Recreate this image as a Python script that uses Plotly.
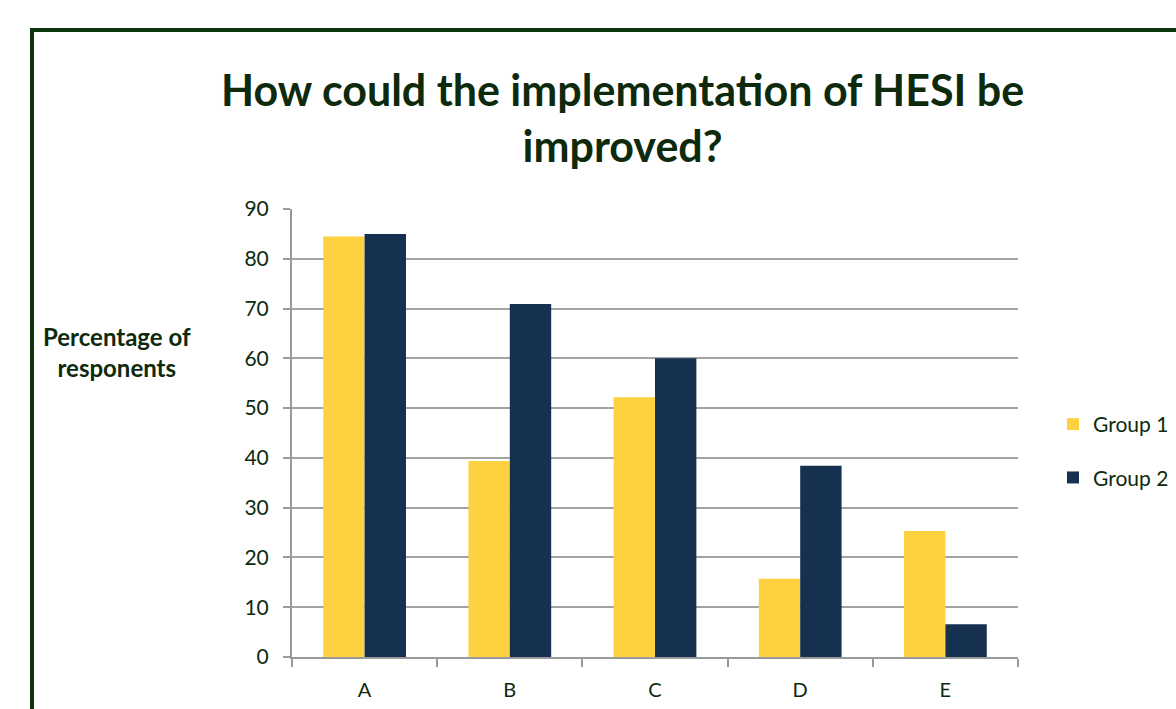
import plotly.graph_objects as go

categories = ["A", "B", "C", "D", "E"]
group1 = [84.5, 39.4, 52.2, 15.7, 25.3]
group2 = [85.0, 70.9, 60.0, 38.4, 6.6]
series_names = ["Group 1", "Group 2"]
y_ticks = [0, 10, 20, 30, 40, 50, 60, 70, 80, 90]

W, H = 1176, 709
L, R, T, B = 292, 158, 209, 52
pw, ph = W - L - R, H - T - B

def px(x):
    return (x - L) / pw

def py(y):
    return (H - B - y) / ph

text_color = "#0d2a0d"
font_family = "Lato, 'Open Sans', sans-serif"

fig = go.Figure()
fig.add_trace(go.Bar(x=categories, y=group1, name=series_names[0],
                     marker=dict(color="#FDD13F", line=dict(width=0)),
                     legendgroup="g1"))
fig.add_trace(go.Bar(x=categories, y=group2, name=series_names[1],
                     marker=dict(color="#16304F", line=dict(width=0)),
                     legendgroup="g2"))

fig.update_layout(
    width=W, height=H,
    margin=dict(l=L, r=R, t=T, b=B, autoexpand=False),
    paper_bgcolor="white", plot_bgcolor="white",
    barmode="group", bargap=0.43, bargroupgap=0,
    font=dict(family=font_family, color=text_color, size=20),
    showlegend=True,
    legend=dict(x=px(1053), y=py(404), xanchor="left", yanchor="top",
                font=dict(size=21, color=text_color),
                tracegroupgap=23, traceorder="grouped",
                itemwidth=30, bgcolor="rgba(0,0,0,0)"),
    xaxis=dict(type="category", showgrid=False, showline=True,
               linecolor="#9a9a9a", linewidth=2, ticks="outside",
               tickson="boundaries", ticklen=8, tickcolor="#9a9a9a",
               tickwidth=2, ticklabelstandoff=14,
               tickfont=dict(size=20, color=text_color)),
    yaxis=dict(range=[0, 90], tickvals=y_ticks, showgrid=True,
               gridcolor="#a3a3a3", gridwidth=2, showline=True,
               linecolor="#9a9a9a", linewidth=2, ticks="outside",
               ticklen=7, tickcolor="#9a9a9a", tickwidth=2,
               ticklabelstandoff=10, zeroline=False,
               tickfont=dict(size=21, color=text_color)),
    annotations=[
        dict(text="<b>How could the implementation of HESI be<br>improved?</b>",
             x=px(622), y=py(117), xref="paper", yref="paper",
             xanchor="center", yanchor="middle", showarrow=False,
             font=dict(size=43, color=text_color, family=font_family)),
        dict(text="<b>Percentage of<br>responents</b>",
             x=px(117), y=py(352), xref="paper", yref="paper",
             xanchor="center", yanchor="middle", showarrow=False,
             font=dict(size=24, color=text_color, family=font_family)),
    ],
    shapes=[
        dict(type="rect", xref="paper", yref="paper",
             x0=px(32), x1=px(1200), y0=py(740), y1=py(30),
             line=dict(color="#0b350b", width=4), fillcolor="rgba(0,0,0,0)",
             layer="below"),
    ],
)

fig.write_html("out.html",
               config={"displayModeBar": False},
               post_script="document.body.style.margin='0px';"
                           "document.body.style.overflow='hidden';")
